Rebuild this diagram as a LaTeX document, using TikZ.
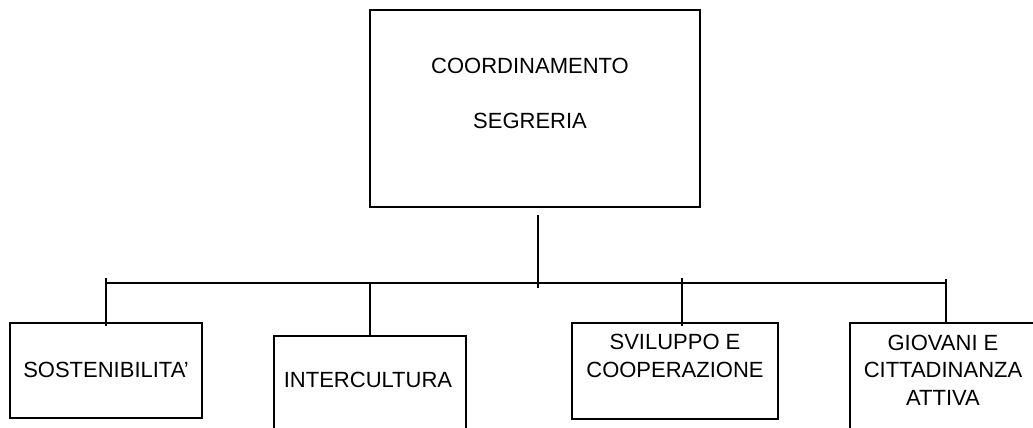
\documentclass[tikz,border=0pt]{standalone}
\usepackage{fontspec}
\setmainfont{Liberation Sans}
\begin{document}
\begin{tikzpicture}[x=0.75pt, y=-0.75pt, line width=1.5pt,
    box/.style={draw, rectangle, inner sep=0pt},
    lbl/.style={align=center, inner sep=0pt, font=\fontsize{16.5}{20.6}\selectfont}]
  \useasboundingbox (0,0) rectangle (1033,428);
  \node [box, minimum width=330*0.75pt, minimum height=197*0.75pt] (coord) at (535,108.5) {};
  \node [lbl] (coordtext) at (530,93) {COORDINAMENTO\\[20.6pt]SEGRERIA};
  \node [box, minimum width=192*0.75pt, minimum height=95*0.75pt] (sost) at (106,370.5) {};
  \node [lbl] (sosttext) at (106,370) {SOSTENIBILITA’};
  \node [box, minimum width=192*0.75pt, minimum height=95*0.75pt] (inter) at (370,383.5) {};
  \node [lbl] (intertext) at (368,380) {INTERCULTURA};
  \node [box, minimum width=206*0.75pt, minimum height=96*0.75pt] (svil) at (675,371) {};
  \node [lbl] (sviltext) at (675,356) {SVILUPPO E\\COOPERAZIONE};
  \node [box, minimum width=200*0.75pt, minimum height=110*0.75pt] (giov) at (950,378) {};
  \node [lbl] (giovtext) at (943,370) {GIOVANI E\\CITTADINANZA\\ATTIVA};
  \coordinate (stem) at (538,215);
  \coordinate (stemend) at (538,288);
  \coordinate (barl) at (106,283);
  \coordinate (barr) at (946,283);
  \coordinate (dsost) at (106,278);
  \coordinate (dinter) at (370,284);
  \coordinate (dsvil) at (682,278);
  \coordinate (dgiov) at (946,279);
  \draw (stem) -- (stemend);
  \draw (barl) -- (barr);
  \draw (dsost) -- ([yshift=-4*0.75pt]sost.north);
  \draw (dinter) -- (inter.north);
  \draw (dsvil) -- ([yshift=-4*0.75pt]svil.north -| dsvil);
  \draw (dgiov) -- ([yshift=-2*0.75pt]giov.north -| dgiov);
\end{tikzpicture}
\end{document}
